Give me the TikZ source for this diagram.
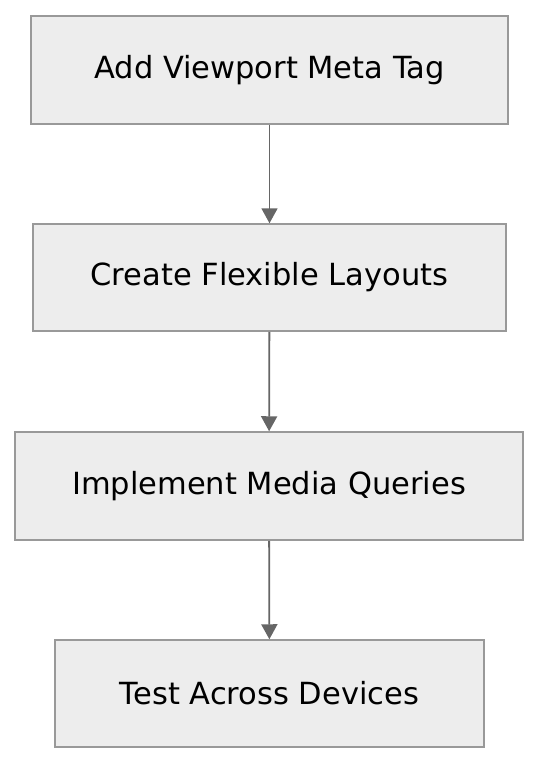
\documentclass[tikz,border=0pt]{standalone}
\usepackage{fontspec}
\setmainfont{DejaVu Sans}
\usetikzlibrary{arrows.meta}

\begin{document}
\begin{tikzpicture}[x=1pt, y=-1pt, main/.style = {draw=black!40, line width=1.5pt, fill=black!7, font=\fontsize{30.5}{36}\selectfont}, flow/.style = {draw=black!60, line width=1.8pt, -{Triangle[length=15pt,width=16pt]}}]
            \useasboundingbox (0,0) rectangle (540,764);
            \node[main,minimum width=477pt,minimum height=108pt] (1) at (269.5,70) {Add Viewport Meta Tag};
            \node[main,minimum width=473pt,minimum height=107pt] (2) at (269.5,277.5) {Create Flexible Layouts};
            \node[main,minimum width=508pt,minimum height=108pt] (3) at (269,486) {Implement Media Queries};
            \node[main,minimum width=429pt,minimum height=107pt] (4) at (269.5,693.5) {Test Across Devices};

            \draw[flow] (1) -- (2);
            \draw[flow] (2) -- (3);
            \draw[flow] (3) -- (4);

        \end{tikzpicture}
\end{document}
